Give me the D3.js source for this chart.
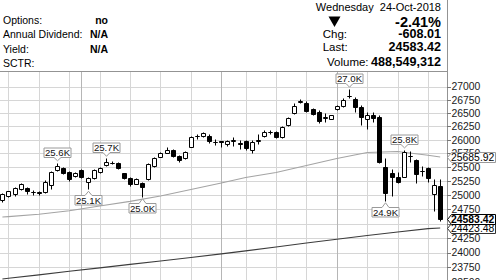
<!DOCTYPE html>
<html>
<head>
<meta charset="utf-8">
<script src="https://cdn.jsdelivr.net/npm/d3@7"></script>
<style>
  body { margin: 0; background: #fff; }
  svg { display: block; font-family: 'Liberation Sans', Arial, sans-serif; }
</style>
</head>
<body>
<svg id="chart" width="500" height="280"></svg>
<script>
// daily bars, DJIA Jul 13 - Oct 24 2018
const days = [
  '2018-07-13', '2018-07-16', '2018-07-17', '2018-07-18', '2018-07-19', '2018-07-20',
  '2018-07-23', '2018-07-24', '2018-07-25', '2018-07-26', '2018-07-27', '2018-07-30',
  '2018-07-31', '2018-08-01', '2018-08-02', '2018-08-03', '2018-08-06', '2018-08-07',
  '2018-08-08', '2018-08-09', '2018-08-10', '2018-08-13', '2018-08-14', '2018-08-15',
  '2018-08-16', '2018-08-17', '2018-08-20', '2018-08-21', '2018-08-22', '2018-08-23',
  '2018-08-24', '2018-08-27', '2018-08-28', '2018-08-29', '2018-08-30', '2018-08-31',
  '2018-09-04', '2018-09-05', '2018-09-06', '2018-09-07', '2018-09-10', '2018-09-11',
  '2018-09-12', '2018-09-13', '2018-09-14', '2018-09-17', '2018-09-18', '2018-09-19',
  '2018-09-20', '2018-09-21', '2018-09-24', '2018-09-25', '2018-09-26', '2018-09-27',
  '2018-09-28', '2018-10-01', '2018-10-02', '2018-10-03', '2018-10-04', '2018-10-05',
  '2018-10-08', '2018-10-09', '2018-10-10', '2018-10-11', '2018-10-12', '2018-10-15',
  '2018-10-16', '2018-10-17', '2018-10-18', '2018-10-19', '2018-10-22', '2018-10-23',
  '2018-10-24'
];
const opens = [
  24920, 24985, 25019, 25108, 25130, 25060, 25050, 25060, 25180, 25449, 25480, 25419,
  25341, 25449, 25238, 25300, 25419, 25540, 25580, 25570, 25390, 25300, 25197, 25220,
  25290, 25522, 25692, 25764, 25813, 25710, 25661, 25867, 26075, 26070, 26070, 25955,
  25970, 25920, 25985, 25940, 25980, 25813, 25975, 26070, 26150, 26145, 26052, 26270,
  26495, 26700, 26680, 26570, 26520, 26400, 26395, 26570, 26635, 26815, 26765, 26610,
  26386, 26460, 26432, 25508, 25390, 25329, 25329, 25700, 25630, 25430, 25480, 25019,
  25161
];
const highs = [
  25030, 25075, 25140, 25210, 25150, 25090, 25080, 25270, 25430, 25580, 25500, 25440,
  25420, 25470, 25320, 25465, 25500, 25661, 25620, 25590, 25400, 25330, 25300, 25240,
  25580, 25690, 25770, 25860, 25830, 25730, 25790, 26080, 26110, 26140, 26100, 26010,
  25985, 25990, 26060, 25990, 26000, 25990, 26110, 26180, 26180, 26170, 26260, 26420,
  26680, 26770, 26720, 26590, 26560, 26500, 26470, 26660, 26790, 26952, 26800, 26650,
  26510, 26520, 26460, 25661, 25460, 25420, 25815, 25800, 25650, 25520, 25510, 25280,
  25280
];
const lows = [
  24880, 24965, 24990, 25090, 25020, 25000, 24995, 25042, 25100, 25430, 25370, 25260,
  25330, 25300, 25103, 25290, 25400, 25530, 25550, 25475, 25290, 25170, 25190, 24970,
  25270, 25510, 25680, 25750, 25690, 25600, 25650, 25860, 26010, 26050, 25950, 25910,
  25870, 25880, 25890, 25830, 25810, 25750, 25930, 26060, 26110, 26040, 26040, 26260,
  26480, 26680, 26510, 26460, 26310, 26340, 26380, 26560, 26620, 26780, 26520, 26280,
  26200, 26340, 25580, 24899, 24990, 25210, 25320, 25600, 25210, 25340, 25240, 24720,
  24540
];
const closes = [
  25019, 25064, 25120, 25199, 25064, 25058, 25044, 25242, 25414, 25527, 25400, 25290,
  25400, 25329, 25310, 25449, 25480, 25600, 25584, 25480, 25300, 25192, 25281, 25137,
  25558, 25660, 25750, 25815, 25710, 25625, 25775, 26050, 26064, 26122, 25975, 25962,
  25952, 25970, 25992, 25917, 25845, 25968, 25990, 26145, 26152, 26055, 26235, 26400,
  26640, 26725, 26530, 26475, 26350, 26420, 26455, 26640, 26740, 26828, 26607, 26430,
  26470, 26410, 25590, 25040, 25325, 25235, 25780, 25700, 25370, 25440, 25310, 25180,
  24583.42
];

// moving averages
const maDays = [
  '2018-07-13', '2018-07-16', '2018-07-23', '2018-07-30', '2018-08-06', '2018-08-13',
  '2018-08-20', '2018-08-27', '2018-09-04', '2018-09-10', '2018-09-17', '2018-09-24',
  '2018-10-01', '2018-10-08', '2018-10-15', '2018-10-22', '2018-10-24'
];
const sma50 = [
  24613, 24620, 24663, 24724, 24807, 24888, 24983, 25099, 25215, 25314, 25404, 25530,
  25658, 25767, 25786, 25716, 25685.92
];
const sma200 = [
  23553, 23565, 23623, 23684, 23740, 23800, 23857, 23917, 23977, 24028, 24094, 24163,
  24227, 24292, 24352, 24411, 24423.48
];

// y axis ticks
const yTicks = [
  23500, 23750, 24000, 24250, 24500, 24750, 25000, 25250, 25500, 25750,
  26000, 26250, 26500, 26750, 27000
];

// swing highs / lows that get a value flag
const flags = [
  {day: '2018-07-26', side: 'high'},
  {day: '2018-08-02', side: 'low'},
  {day: '2018-08-07', side: 'high'},
  {day: '2018-08-15', side: 'low'},
  {day: '2018-10-03', side: 'high'},
  {day: '2018-10-11', side: 'low'},
  {day: '2018-10-16', side: 'high'}
];

// header panel
const infoLabels = ['Options:', 'Annual Dividend:', 'Yield:', 'SCTR:'];
const infoValues = ['no', 'N/A', 'N/A', ''];
const quoteDate = 'Wednesday  24-Oct-2018';
const quotePct = '-2.41%';
const quoteRows = [
  {label: 'Chg:', value: '-608.01'},
  {label: 'Last:', value: '24583.42'},
  {label: 'Volume:', value: '488,549,312'}
];

const svg = d3.select('#chart');
const parse = d3.timeParse('%Y-%m-%d');
const plot = {left: 0, top: 71, right: 447, bottom: 280};

const bars = days.map((day, i) => ({
  day, date: parse(day),
  open: opens[i], high: highs[i], low: lows[i], close: closes[i]
}));

const x = d3.scalePoint().domain(days).range([2.4, 440.2]);
const y = d3.scaleLog().domain([23750, 27000]).range([267.3, 86.7]);

const crisp = v => Math.round(v) + 0.5;
const px = day => crisp(x(day));
const py = v => crisp(y(v));

svg.append('defs').append('clipPath').attr('id', 'plot-clip')
  .append('rect')
    .attr('x', plot.left).attr('y', plot.top)
    .attr('width', plot.right - plot.left).attr('height', plot.bottom - plot.top);

// grid
const grid = svg.append('g').attr('clip-path', 'url(#plot-clip)');

grid.selectAll('.grid-h').data(yTicks).join('line')
    .attr('class', 'grid-h')
    .attr('x1', plot.left).attr('x2', plot.right)
    .attr('y1', d => py(d)).attr('y2', d => py(d))
    .attr('stroke', '#d6d6d6');

const weekStarts = bars.filter((d, i) => i > 0 &&
  +d3.timeMonday.floor(d.date) !== +d3.timeMonday.floor(bars[i - 1].date));
const monthStarts = bars.filter((d, i) => i > 0 &&
  d.date.getMonth() !== bars[i - 1].date.getMonth());

grid.selectAll('.grid-w').data(weekStarts).join('line')
    .attr('class', 'grid-w')
    .attr('x1', d => px(d.day)).attr('x2', d => px(d.day))
    .attr('y1', plot.top).attr('y2', plot.bottom)
    .attr('stroke', '#d6d6d6');

grid.selectAll('.grid-m').data(monthStarts).join('line')
    .attr('class', 'grid-m')
    .attr('x1', d => px(d.day)).attr('x2', d => px(d.day))
    .attr('y1', plot.top).attr('y2', plot.bottom)
    .attr('stroke', '#b6b6b6');

// moving averages
const chartGroup = svg.append('g').attr('clip-path', 'url(#plot-clip)');
const maLine = d3.line().x(d => x(d.day)).y(d => y(d.value));

[{values: sma50, color: '#a4a4a4'}, {values: sma200, color: '#3c3c3c'}].forEach(ma => {
  chartGroup.append('path')
      .datum(maDays.map((day, i) => ({day, value: ma.values[i]})))
      .attr('d', maLine)
      .attr('fill', 'none')
      .attr('stroke', ma.color)
      .attr('stroke-width', 1.1);
});

// candles
const candle = chartGroup.selectAll('.candle').data(bars).join('g')
    .attr('class', 'candle');

candle.append('line')
    .attr('x1', d => px(d.day)).attr('x2', d => px(d.day))
    .attr('y1', d => py(d.high)).attr('y2', d => py(d.low))
    .attr('stroke', '#000');

candle.append('path')
    .attr('d', d => {
      const cx = px(d.day),
            top = py(Math.max(d.open, d.close)),
            bottom = py(Math.min(d.open, d.close));
      return `M${cx - 2},${top}H${cx + 2}V${bottom}H${cx - 2}Z`;
    })
    .attr('fill', d => d.close >= d.open ? '#fff' : '#000')
    .attr('stroke', '#000');

// value flags on swing points
const flagW = 27, flagH = 9.5, notch = 3.5;
const byDay = new Map(bars.map(d => [d.day, d]));
const fmtK = v => (v / 1000).toFixed(1) + 'K';

svg.append('g').selectAll('.flag').data(flags).join('g')
    .attr('class', 'flag')
    .each(function (f) {
      const bar = byDay.get(f.day),
            g = d3.select(this),
            cx = px(f.day),
            value = f.side === 'high' ? bar.high : bar.low,
            tip = f.side === 'high' ? y(value) - 2 : y(value) + 2,
            l = cx - flagW / 2, r = cx + flagW / 2;
      let top, bottom, d;
      if (f.side === 'high') {
        bottom = Math.round(tip - 4) + 0.5;
        top = bottom - flagH;
        d = `M${l},${top}H${r}V${bottom}H${cx + notch}L${cx},${tip}L${cx - notch},${bottom}H${l}Z`;
      } else {
        top = Math.round(tip + 4) + 0.5;
        bottom = top + flagH;
        d = `M${l},${top}H${cx - notch}L${cx},${tip}L${cx + notch},${top}H${r}V${bottom}H${l}Z`;
      }
      g.append('path')
          .attr('d', d)
          .attr('fill', '#fff')
          .attr('stroke', '#9a9a9a');
      g.append('text')
          .attr('x', cx).attr('y', (top + bottom) / 2)
          .attr('dy', '0.36em')
          .attr('text-anchor', 'middle')
          .attr('font-size', 9.6)
          .attr('fill', '#111')
          .text(fmtK(value));
    });

// frame
const frame = svg.append('g').attr('stroke', '#939393');
frame.append('line')
    .attr('x1', plot.left).attr('x2', plot.right + 0.5)
    .attr('y1', plot.top + 0.5).attr('y2', plot.top + 0.5);
frame.append('line')
    .attr('x1', plot.right + 0.5).attr('x2', plot.right + 0.5)
    .attr('y1', 0).attr('y2', plot.bottom);

// right axis
const axis = svg.append('g');
axis.selectAll('.tick-mark').data(yTicks).join('line')
    .attr('class', 'tick-mark')
    .attr('x1', plot.right).attr('x2', plot.right + 4)
    .attr('y1', d => py(d)).attr('y2', d => py(d))
    .attr('stroke', '#777');
axis.selectAll('.tick-label').data(yTicks).join('text')
    .attr('class', 'tick-label')
    .attr('x', plot.right + 4.5)
    .attr('y', d => y(d))
    .attr('dy', '0.36em')
    .attr('font-size', 10.4)
    .attr('fill', '#1a1a1a')
    .text(d => d);

// last-value badges on the axis
function axisBadge (value, stroke, bold) {
  const cy = crisp(y(value)),
        tipX = plot.right + 0.5,
        l = tipX + 4, r = 495.5, h = 5;
  const g = axis.append('g');
  g.append('path')
      .attr('d', `M${tipX},${cy}L${l},${cy - h}H${r}V${cy + h}H${l}Z`)
      .attr('fill', '#fff')
      .attr('stroke', stroke);
  g.append('text')
      .attr('x', l - 0.5).attr('y', cy)
      .attr('dy', '0.36em')
      .attr('font-size', 10.4)
      .attr('font-weight', bold ? 'bold' : 'normal')
      .attr('fill', '#000')
      .text(d3.format('.2f')(value));
}

axisBadge(sma50[sma50.length - 1], '#9a9a9a', false);
axisBadge(sma200[sma200.length - 1], '#333', false);
axisBadge(closes[closes.length - 1], '#000', true);

// header
const head = svg.append('g').attr('fill', '#000');

head.selectAll('.info-label').data(infoLabels).join('text')
    .attr('class', 'info-label')
    .attr('x', 3).attr('y', (d, i) => 24 + i * 14.3)
    .attr('font-size', 10.5)
    .text(d => d);
head.selectAll('.info-value').data(infoValues).join('text')
    .attr('class', 'info-value')
    .attr('x', 108).attr('y', (d, i) => 24 + i * 14.3)
    .attr('text-anchor', 'end')
    .attr('font-size', 10.5)
    .attr('font-weight', 'bold')
    .text(d => d);

head.append('text')
    .attr('x', 441).attr('y', 10.6)
    .attr('text-anchor', 'end')
    .attr('font-size', 11)
    .attr('xml:space', 'preserve')
    .style('white-space', 'pre')
    .text(quoteDate);

head.append('path')
    .attr('d', 'M328.5,16.5H340.5L334.5,27Z');

head.append('text')
    .attr('x', 441).attr('y', 27.2)
    .attr('text-anchor', 'end')
    .attr('font-size', 14.5)
    .attr('font-weight', 'bold')
    .text(quotePct);

const rowY = [37.8, 51, 66];
const rowX = [322.7, 322.7, 327];
head.selectAll('.quote-label').data(quoteRows).join('text')
    .attr('class', 'quote-label')
    .attr('x', (d, i) => rowX[i]).attr('y', (d, i) => rowY[i])
    .attr('font-size', 11.5)
    .text(d => d.label);
head.selectAll('.quote-value').data(quoteRows).join('text')
    .attr('class', 'quote-value')
    .attr('x', 441).attr('y', (d, i) => rowY[i])
    .attr('text-anchor', 'end')
    .attr('font-size', 12.6)
    .attr('font-weight', 'bold')
    .text(d => d.value);
</script>
</body>
</html>
